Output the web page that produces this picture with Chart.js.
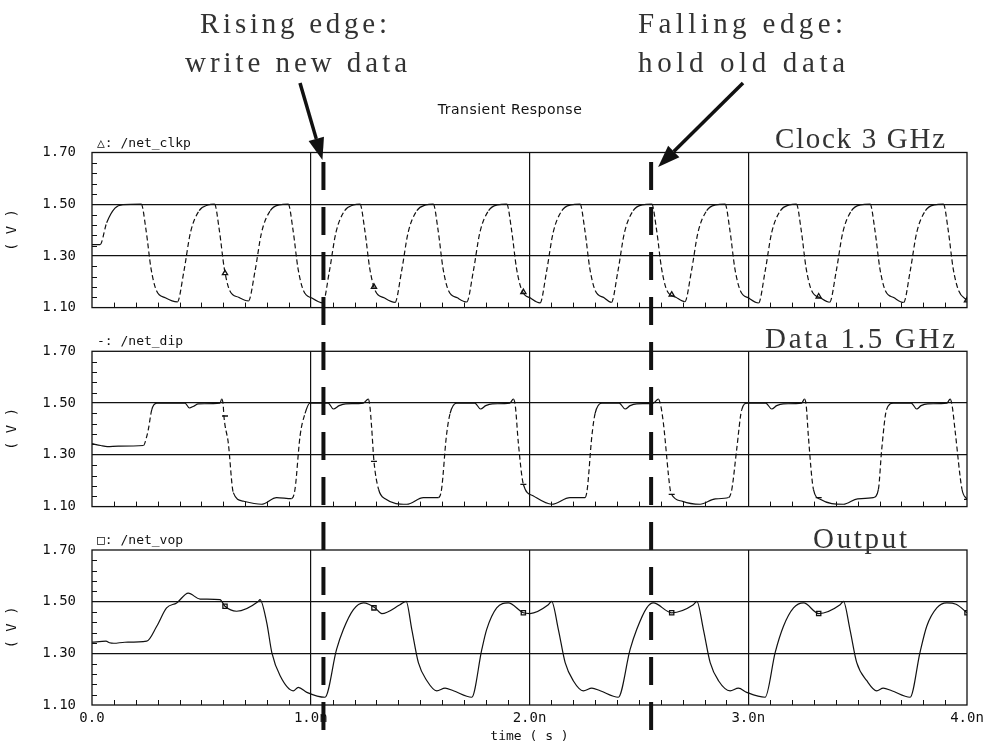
<!DOCTYPE html>
<html>
<head>
<meta charset="utf-8">
<script src="https://cdn.jsdelivr.net/npm/chart.js@4.4.1/dist/chart.umd.min.js"></script>
<style>
  html, body { margin: 0; padding: 0; background: #fff; }
  #page { position: relative; width: 993px; height: 747px; overflow: hidden; }
  .panel { position: absolute; left: 0; }
  #overlay { position: absolute; left: 0; top: 0; pointer-events: none; }
</style>
</head>
<body>
<div id="page">
  <canvas id="clk" class="panel" width="993" height="190" style="top:125px"></canvas>
  <canvas id="dip" class="panel" width="993" height="190" style="top:325px"></canvas>
  <canvas id="vop" class="panel" width="993" height="222" style="top:525px"></canvas>
  <canvas id="overlay" width="993" height="747"></canvas>
</div>
<script>
// time in ns, voltage in V
const clkT = [0, 0.037, 0.067, 0.105, 0.143,
  0.225, 0.247, 0.27, 0.295, 0.335, 0.39, 0.42, 0.45, 0.49, 0.53,
  0.56, 0.582, 0.605, 0.63, 0.67, 0.715, 0.745, 0.775, 0.815, 0.855,
  0.897, 0.919, 0.942, 0.967, 1.007, 1.055, 1.085, 1.115, 1.155, 1.195,
  1.225, 1.247, 1.27, 1.295, 1.335, 1.385, 1.415, 1.445, 1.485, 1.525,
  1.56, 1.582, 1.605, 1.63, 1.67, 1.713, 1.743, 1.773, 1.813, 1.853,
  1.896, 1.918, 1.941, 1.966, 2.006, 2.048, 2.078, 2.108, 2.148, 2.188,
  2.231, 2.253, 2.276, 2.301, 2.341, 2.374, 2.404, 2.434, 2.474, 2.514,
  2.559, 2.581, 2.604, 2.629, 2.669, 2.71, 2.74, 2.77, 2.81, 2.85,
  2.894, 2.916, 2.939, 2.964, 3.004, 3.047, 3.077, 3.107, 3.147, 3.187,
  3.22, 3.242, 3.265, 3.29, 3.33, 3.372, 3.402, 3.432, 3.472, 3.512,
  3.557, 3.579, 3.602, 3.627, 3.667, 3.71, 3.74, 3.77, 3.81, 3.85,
  3.892, 3.914, 3.937, 3.962, 4.0];
const clkV = [1.344, 1.344, 1.428, 1.485, 1.498,
  1.50, 1.40, 1.25, 1.165, 1.138, 1.122, 1.24, 1.39, 1.475, 1.497,
  1.50, 1.40, 1.25, 1.165, 1.14, 1.126, 1.24, 1.39, 1.475, 1.497,
  1.50, 1.40, 1.25, 1.165, 1.136, 1.118, 1.24, 1.39, 1.475, 1.497,
  1.50, 1.40, 1.25, 1.165, 1.138, 1.12, 1.24, 1.39, 1.475, 1.497,
  1.50, 1.40, 1.25, 1.165, 1.138, 1.122, 1.24, 1.39, 1.475, 1.497,
  1.50, 1.40, 1.25, 1.165, 1.136, 1.118, 1.24, 1.39, 1.475, 1.497,
  1.50, 1.40, 1.25, 1.165, 1.138, 1.12, 1.24, 1.39, 1.475, 1.497,
  1.50, 1.40, 1.25, 1.165, 1.14, 1.123, 1.24, 1.39, 1.475, 1.497,
  1.50, 1.40, 1.25, 1.165, 1.136, 1.118, 1.24, 1.39, 1.475, 1.497,
  1.50, 1.40, 1.25, 1.165, 1.138, 1.121, 1.24, 1.39, 1.475, 1.497,
  1.50, 1.40, 1.25, 1.165, 1.138, 1.12, 1.24, 1.39, 1.475, 1.497,
  1.50, 1.40, 1.25, 1.165, 1.128];

const dipT = [0, 0.04, 0.07, 0.12, 0.235, 0.25, 0.258, 0.273, 0.296,
  0.425, 0.445, 0.465, 0.486, 0.585, 0.593, 0.6, 0.603, 0.623, 0.646, 0.691, 0.775, 0.844, 0.912, 0.928, 0.951, 0.974, 0.996,
  1.08, 1.103, 1.13, 1.16, 1.24, 1.263, 1.27, 1.278, 1.289, 1.31, 1.34, 1.439, 1.515, 1.583, 1.598, 1.62, 1.637, 1.667,
  1.75, 1.776, 1.80, 1.83, 1.91, 1.926, 1.935, 1.949, 1.972, 2.018, 2.102, 2.185, 2.254, 2.264, 2.285, 2.30, 2.33,
  2.41, 2.437, 2.46, 2.49, 2.566, 2.589, 2.60, 2.612, 2.643, 2.65, 2.70, 2.78, 2.85, 2.91, 2.925, 2.947, 2.97, 2.996,
  3.08, 3.107, 3.13, 3.16, 3.244, 3.257, 3.265, 3.275, 3.298, 3.329, 3.435, 3.50, 3.572, 3.595, 3.61, 3.632, 3.663,
  3.745, 3.77, 3.79, 3.82, 3.908, 3.923, 3.932, 3.946, 3.977, 4.0];
const dipV = [1.343, 1.336, 1.332, 1.334, 1.336, 1.37, 1.40, 1.474, 1.50,
  1.50, 1.481, 1.488, 1.497, 1.50, 1.515, 1.49, 1.45, 1.346, 1.154, 1.121, 1.109, 1.135, 1.131, 1.167, 1.372, 1.46, 1.50,
  1.50, 1.477, 1.49, 1.497, 1.50, 1.515, 1.49, 1.41, 1.275, 1.167, 1.13, 1.109, 1.135, 1.135, 1.167, 1.372, 1.46, 1.50,
  1.50, 1.477, 1.49, 1.497, 1.50, 1.515, 1.49, 1.346, 1.186, 1.141, 1.109, 1.135, 1.135, 1.167, 1.372, 1.46, 1.50,
  1.50, 1.477, 1.49, 1.497, 1.50, 1.515, 1.49, 1.423, 1.167, 1.147, 1.12, 1.109, 1.13, 1.135, 1.167, 1.32, 1.474, 1.50,
  1.50, 1.477, 1.49, 1.497, 1.50, 1.515, 1.49, 1.37, 1.167, 1.128, 1.109, 1.13, 1.135, 1.167, 1.32, 1.474, 1.50,
  1.50, 1.477, 1.49, 1.497, 1.50, 1.515, 1.49, 1.39, 1.167, 1.128];

const vopT = [0, 0.064, 0.08, 0.10, 0.15, 0.25, 0.296, 0.341, 0.387, 0.44, 0.494, 0.585, 0.608, 0.661, 0.76, 0.768,
  0.799, 0.822, 0.86, 0.92, 0.943, 0.982, 1.065,
  1.118, 1.149, 1.195, 1.241, 1.265, 1.294, 1.325, 1.408, 1.436,
  1.462, 1.492, 1.531, 1.576, 1.614, 1.652, 1.736,
  1.782, 1.804, 1.85, 1.903, 1.972, 2.002, 2.086, 2.101,
  2.132, 2.163, 2.2, 2.246, 2.285, 2.323, 2.406,
  2.46, 2.49, 2.536, 2.566, 2.65, 2.749, 2.765,
  2.795, 2.826, 2.864, 2.917, 2.955, 2.993, 3.077,
  3.123, 3.161, 3.207, 3.253, 3.322, 3.42, 3.435,
  3.465, 3.496, 3.542, 3.587, 3.617, 3.656, 3.74,
  3.785, 3.816, 3.862, 3.908, 3.95, 4.0];
const vopV = [1.343, 1.347, 1.341, 1.339, 1.343, 1.347, 1.405, 1.476, 1.495, 1.533, 1.51, 1.508, 1.482, 1.463, 1.501, 1.508,
  1.418, 1.303, 1.213, 1.155, 1.168, 1.149, 1.13,
  1.315, 1.392, 1.469, 1.495, 1.49, 1.476, 1.454, 1.488, 1.501,
  1.392, 1.264, 1.194, 1.155, 1.165, 1.155, 1.13,
  1.315, 1.392, 1.476, 1.495, 1.457, 1.454, 1.488, 1.501,
  1.392, 1.264, 1.194, 1.155, 1.165, 1.155, 1.13,
  1.315, 1.392, 1.476, 1.495, 1.457, 1.488, 1.501,
  1.392, 1.264, 1.194, 1.155, 1.165, 1.149, 1.13,
  1.303, 1.405, 1.476, 1.495, 1.454, 1.488, 1.501,
  1.392, 1.264, 1.194, 1.155, 1.165, 1.155, 1.13,
  1.303, 1.405, 1.476, 1.495, 1.49, 1.457];

// marker positions (same times on every trace)
const markT = [0.608, 1.289, 1.972, 2.65, 3.322, 4.0];
const clkMarkV = [1.233, 1.18, 1.16, 1.15, 1.143, 1.128];
const dipMarkV = [1.45, 1.275, 1.186, 1.147, 1.135, 1.128];
const vopMarkV = [1.482, 1.476, 1.457, 1.457, 1.454, 1.457];

const traceNames = ['\u25B3: /net_clkp', '-: /net_dip', '\u25A1: /net_vop'];
const riseEdgeT = 1.058; // clock rising edge marked in the figure
const fallEdgeT = 2.556; // clock falling edge

const mono = { family: '"DejaVu Sans Mono", monospace', size: 14 };
const ink = '#111';
const isWhole = v => Math.abs(v - Math.round(v)) < 1e-6;
const isMajorY = v => isWhole((v - 1.1) / 0.2);

// steep parts of the clock/data traces are drawn broken like the original plot
const steepDash = ctx => {
  const dx = Math.abs(ctx.p1.x - ctx.p0.x), dy = Math.abs(ctx.p1.y - ctx.p0.y);
  return dy > 2.5 * dx ? [5, 3] : undefined;
};

const panelBox = {
  id: 'panelBox',
  beforeDatasetsDraw(chart, args, opts) {
    const { ctx, chartArea: a, scales } = chart;
    ctx.save();
    ctx.strokeStyle = ink;
    ctx.lineWidth = 1.3;
    ctx.strokeRect(a.left, a.top, a.width, a.height);
    // small inner ticks
    ctx.lineWidth = 1;
    ctx.beginPath();
    scales.x.ticks.forEach(t => {
      if (isWhole(t.value)) return;
      const x = Math.round(scales.x.getPixelForValue(t.value)) + 0.5;
      ctx.moveTo(x, a.bottom);
      ctx.lineTo(x, a.bottom - 5);
    });
    scales.y.ticks.forEach(t => {
      if (isMajorY(t.value)) return;
      const y = Math.round(scales.y.getPixelForValue(t.value)) + 0.5;
      ctx.moveTo(a.left, y);
      ctx.lineTo(a.left + 5, y);
    });
    ctx.stroke();
    ctx.font = '13px "DejaVu Sans Mono"';
    ctx.fillStyle = ink;
    ctx.textBaseline = 'alphabetic';
    ctx.fillText(opts.label, a.left + 5, a.top - 6);
    ctx.restore();
  }
};

function makePanel(id, cfg) {
  return new Chart(document.getElementById(id), {
    type: 'line',
    data: {
      datasets: [{
        data: cfg.t.map((t, i) => ({ x: t, y: cfg.v[i] })),
        borderColor: ink,
        borderWidth: 1.2,
        pointRadius: 0,
        cubicInterpolationMode: 'monotone',
        segment: cfg.dashed ? { borderDash: steepDash } : {}
      }, {
        data: markT.map((t, i) => ({ x: t, y: cfg.mv[i] })),
        showLine: false,
        pointStyle: cfg.marker,
        pointRadius: 3,
        borderColor: ink,
        backgroundColor: 'rgba(0,0,0,0)',
        borderWidth: 1.3
      }]
    },
    options: {
      responsive: false,
      maintainAspectRatio: false,
      animation: false,
      devicePixelRatio: 1,
      layout: { padding: { top: cfg.padTop, bottom: cfg.padBottom, left: 0, right: 26 } },
      plugins: {
        legend: { display: false },
        tooltip: { enabled: false },
        panelBox: { label: cfg.label }
      },
      scales: {
        x: {
          type: 'linear', min: 0, max: 4,
          border: { display: false },
          grid: {
            drawTicks: false,
            lineWidth: 1.2,
            color: c => (isWhole(c.tick.value) && c.tick.value > 0 && c.tick.value < 4) ? ink : 'rgba(0,0,0,0)'
          },
          ticks: {
            stepSize: 0.1, autoSkip: false, maxRotation: 0, minRotation: 0,
            display: cfg.xLabels, padding: 5, font: mono, color: ink,
            callback: v => isWhole(v) ? (Math.round(v) === 0 ? '0.0' : Math.round(v).toFixed(1) + 'n') : ''
          },
          title: {
            display: cfg.xLabels, text: 'time ( s )', color: ink,
            font: { family: '"DejaVu Sans Mono", monospace', size: 13 },
            padding: { top: 0, bottom: 3 }
          },
          afterFit: s => { s.height = cfg.xHeight; }
        },
        y: {
          type: 'linear', min: 1.1, max: 1.7,
          border: { display: false },
          grid: {
            drawTicks: false,
            lineWidth: 1.2,
            color: c => (Math.abs(c.tick.value - 1.3) < 1e-6 || Math.abs(c.tick.value - 1.5) < 1e-6) ? ink : 'rgba(0,0,0,0)'
          },
          ticks: {
            stepSize: 0.04, autoSkip: false, padding: 16, font: mono, color: ink,
            callback: v => isMajorY(v) ? v.toFixed(2) : ''
          },
          title: { display: true, text: '( V )', color: ink, font: mono, padding: { top: 4, bottom: 0 } },
          afterFit: s => { s.width = 92; }
        }
      }
    },
    plugins: [panelBox]
  });
}

// put the plot frame of a panel exactly on the page rows of the original
function pinPanel(chart, wantTop, wantBottom) {
  const a = chart.chartArea;
  chart.canvas.style.top = (wantTop - a.top) + 'px';
  const extra = (wantBottom - wantTop) - (a.bottom - a.top);
  if (Math.abs(extra) > 0.5) chart.resize(chart.width, Math.round(chart.height + extra));
}

const clkChart = makePanel('clk', { t: clkT, v: clkV, mv: clkMarkV, marker: 'triangle', dashed: true,
  label: traceNames[0], padTop: 27.5, padBottom: 6, xHeight: 1, xLabels: false });
const dipChart = makePanel('dip', { t: dipT, v: dipV, mv: dipMarkV, marker: 'line', dashed: true,
  label: traceNames[1], padTop: 26.3, padBottom: 7, xHeight: 1, xLabels: false });
const vopChart = makePanel('vop', { t: vopT, v: vopV, mv: vopMarkV, marker: 'rect', dashed: false,
  label: traceNames[2], padTop: 25, padBottom: 0, xHeight: 42, xLabels: true });
pinPanel(clkChart, 152.5, 308);
pinPanel(dipChart, 351.3, 507);
pinPanel(vopChart, 550, 705);

// annotations on top of the three panels
const ov = document.getElementById('overlay').getContext('2d');
const xs = clkChart.scales.x;
const xRise = xs.getPixelForValue(riseEdgeT);
const xFall = xs.getPixelForValue(fallEdgeT);

ov.strokeStyle = ink;
ov.lineWidth = 4;
ov.setLineDash([28, 17]);
[xRise, xFall].forEach(x => {
  ov.beginPath();
  ov.moveTo(x, 162);
  ov.lineTo(x, 734);
  ov.stroke();
});
ov.setLineDash([]);

function arrow(x0, y0, x1, y1) {
  const ang = Math.atan2(y1 - y0, x1 - x0);
  const len = 22, half = 8;
  const bx = x1 - len * Math.cos(ang), by = y1 - len * Math.sin(ang);
  ov.lineWidth = 3.5;
  ov.beginPath();
  ov.moveTo(x0, y0);
  ov.lineTo(bx, by);
  ov.stroke();
  ov.beginPath();
  ov.moveTo(x1, y1);
  ov.lineTo(bx + half * Math.sin(ang), by - half * Math.cos(ang));
  ov.lineTo(bx - half * Math.sin(ang), by + half * Math.cos(ang));
  ov.closePath();
  ov.fillStyle = ink;
  ov.fill();
}
arrow(300, 83, xRise - 1, 160);
arrow(743, 83, xFall + 7, 167);

// big notes: stretch each line to the width it has in the original
function note(text, left, baseline, width) {
  ov.letterSpacing = '0px';
  const w = ov.measureText(text).width;
  ov.letterSpacing = ((width - w) / (text.length - 1)) + 'px';
  ov.fillText(text, left, baseline);
}
ov.fillStyle = '#333';
ov.font = '29px "Liberation Serif", "DejaVu Serif", serif';
ov.textBaseline = 'alphabetic';
ov.textAlign = 'left';
note('Rising edge:', 200, 33, 187);
note('write new data', 185, 72, 222);
note('Falling edge:', 638, 33, 205);
note('hold old data', 638, 72, 207);
note('Clock 3 GHz', 775, 148, 170);
note('Data 1.5 GHz', 765, 348, 190);
note('Output', 813, 548, 94);

ov.letterSpacing = '0.5px';
ov.font = '14px "DejaVu Sans", sans-serif';
ov.textAlign = 'center';
ov.textBaseline = 'middle';
ov.fillStyle = ink;
ov.fillText('Transient Response', 510, 110);
</script>
</body>
</html>
